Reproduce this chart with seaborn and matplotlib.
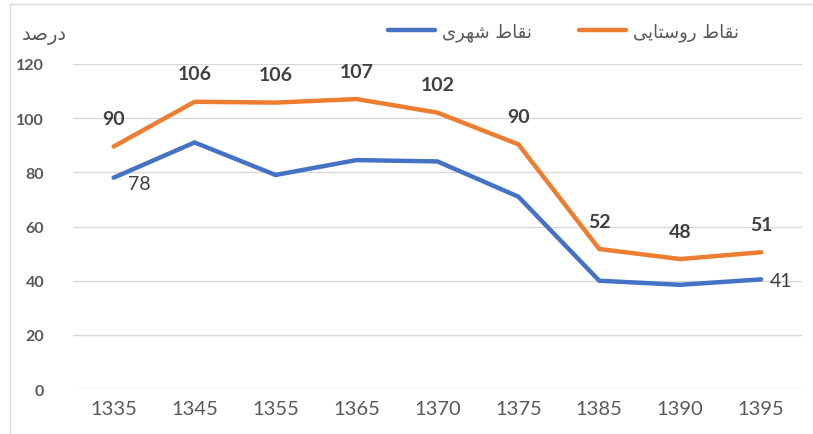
import matplotlib
matplotlib.use("Agg")
import matplotlib.pyplot as plt
import seaborn as sns
import pandas as pd
from matplotlib.patches import Rectangle
from matplotlib.lines import Line2D

sns.set_style("white")
plt.rcParams["font.family"] = ["Lato", "DejaVu Sans"]

# data
years = ["1335", "1345", "1355", "1365", "1370", "1375", "1385", "1390", "1395"]
urban = [78, 91, 79, 84.5, 84, 71, 40, 38.5, 40.5]
rural = [89.5, 106, 105.7, 107, 102, 90.3, 51.7, 48, 50.5]
rural_labels = ["90", "106", "106", "107", "102", "90", "52", "48", "51"]
urban_labels = {0: "78", 8: "41"}
urban_name = "نقاط شهری"
rural_name = "نقاط روستایی"
y_title = "درصد"

# minimal arabic-script shaping (matplotlib has no complex text layout)
FORMS = {
    "ن": ("\uFEE5", "\uFEE6", "\uFEE7", "\uFEE8"),
    "ق": ("\uFED5", "\uFED6", "\uFED7", "\uFED8"),
    "ط": ("\uFEC1", "\uFEC2", "\uFEC3", "\uFEC4"),
    "ش": ("\uFEB5", "\uFEB6", "\uFEB7", "\uFEB8"),
    "ه": ("\uFEE9", "\uFEEA", "\uFEEB", "\uFEEC"),
    "ی": ("\uFBFC", "\uFBFD", "\uFBFE", "\uFBFF"),
    "س": ("\uFEB1", "\uFEB2", "\uFEB3", "\uFEB4"),
    "ت": ("\uFE95", "\uFE96", "\uFE97", "\uFE98"),
    "ص": ("\uFEB9", "\uFEBA", "\uFEBB", "\uFEBC"),
    "ا": ("\uFE8D", "\uFE8E"),
    "ر": ("\uFEAD", "\uFEAE"),
    "و": ("\uFEED", "\uFEEE"),
    "د": ("\uFEA9", "\uFEAA"),
}


def shape(text):
    out = []
    for i, ch in enumerate(text):
        if ch not in FORMS:
            out.append(ch)
            continue
        prev = text[i - 1] if i > 0 else ""
        nxt = text[i + 1] if i + 1 < len(text) else ""
        j_prev = prev in FORMS and len(FORMS[prev]) == 4
        j_next = len(FORMS[ch]) == 4 and nxt in FORMS
        f = FORMS[ch]
        if j_prev and j_next:
            out.append(f[3])
        elif j_prev:
            out.append(f[1])
        elif j_next:
            out.append(f[2])
        else:
            out.append(f[0])
    return "".join(out)[::-1]


df = pd.DataFrame({"year": years * 2,
                   "value": urban + rural,
                   "series": [urban_name] * len(years) + [rural_name] * len(years)})

fig = plt.figure(figsize=(8.13, 4.35), dpi=100)
ax = fig.add_axes([0.09, 0.103, 0.896, 0.748])
sns.lineplot(data=df, x="year", y="value", hue="series", sort=False,
             palette={urban_name: "#4472C4", rural_name: "#ED7D31"},
             linewidth=3.2, ax=ax, legend=False)

ax.set_xlim(-0.5, len(years) - 0.5)
ax.set_ylim(0, 120)
ax.set_yticks(range(0, 121, 20))
ax.grid(axis="y", color="#D9D9D9", linewidth=1)
ax.grid(axis="x", visible=False)
for s in ax.spines.values():
    s.set_visible(False)
ax.set_xlabel("")
ax.set_ylabel("")
ax.tick_params(axis="x", labelsize=14.5, colors="#595959", pad=8, length=0)
ax.tick_params(axis="y", labelsize=11.5, colors="#595959", pad=21, length=0)
for t in ax.get_yticklabels():
    t.set_fontweight("bold")

for i, lab in enumerate(rural_labels):
    ax.annotate(lab, (i, rural[i]), xytext=(0, 20), textcoords="offset points",
                ha="center", va="center", fontsize=14, fontweight="bold",
                color="#404040")
for i, lab in urban_labels.items():
    dx = 10 if i == 0 else 6
    ax.annotate(lab, (i, urban[i]), xytext=(dx, -4 if i == 0 else -1),
                textcoords="offset points", ha="left", va="center",
                fontsize=14, color="#404040")

# legend
handles = [Line2D([], [], color="#4472C4", linewidth=3.2),
           Line2D([], [], color="#ED7D31", linewidth=3.2)]
fig.legend(handles, [shape(urban_name), shape(rural_name)], ncol=2,
           loc="center", bbox_to_anchor=(0.693, 0.925), frameon=False,
           prop={"family": "DejaVu Sans", "size": 13}, labelcolor="#595959",
           handlelength=2.6, columnspacing=2.6, handletextpad=0.4)

fig.text(0.054, 0.918, shape(y_title), ha="center", va="center",
         fontsize=14, color="#595959", family="DejaVu Sans")

fig.patches.append(Rectangle((0.012, -0.02), 1.2, 1.008, transform=fig.transFigure,
                             fill=False, edgecolor="#D9D9D9", linewidth=1))

fig.savefig("out.png", dpi=100)
